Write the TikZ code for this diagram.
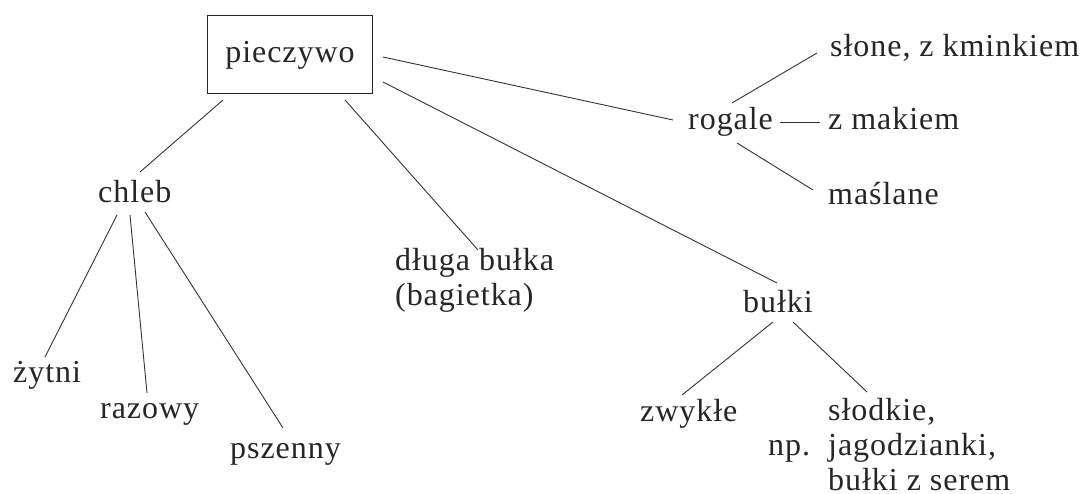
\documentclass[tikz,border=0pt]{standalone}
\usepackage{fontspec}
\setmainfont[LetterSpace=3]{Liberation Serif}
\usetikzlibrary{calc}
\begin{document}
\begin{tikzpicture}[x=1pt,y=-1pt,
  lbl/.style={anchor=base west, inner sep=0pt, align=left,
    font=\fontsize{32}{35}\selectfont, text=black!85},
  rootbox/.style={draw=black!85, line width=1pt, minimum width=165pt,
    minimum height=78pt, inner sep=0pt,
    font=\fontsize{32}{35}\selectfont, text=black!85},
  link/.style={line width=0.9pt, black!80}]
\useasboundingbox (0,0) rectangle (1085,494);

% top of the tree
\node[rootbox] (root) at (290,55) {pieczywo};

% first level (multi-line labels sit on the baseline of their last line)
\node[lbl] (chleb)  at (98,203)  {chleb};
\node[lbl] (dluga)  at (395,306) {długa bułka\\(bagietka)};
\node[lbl] (bulki)  at (743,313) {bułki};
\node[lbl] (rogale) at (688,130) {rogale};

% kinds of bread
\node[lbl] (zytni)   at (13,383)  {żytni};
\node[lbl] (razowy)  at (100,418) {razowy};
\node[lbl] (pszenny) at (230,458) {pszenny};

% kinds of croissants
\node[lbl] (slone)   at (830,57)  {słone, z kminkiem};
\node[lbl] (zmakiem) at (828,130) {z makiem};
\node[lbl] (maslane) at (828,205) {maślane};

% kinds of rolls
\node[lbl] (zwykle)  at (640,421) {zwykłe};
\node[lbl] (slodkie) at (828,490) {słodkie,\\jagodzianki,\\bułki z serem};
\node[lbl] (np)      at (768,455) {np.};

% connectors from the root
\draw[link] ($(root.center)+(-67,45)$) -- ($(chleb.base west)+(42,-31)$);
\draw[link] ($(root.center)+(55,45)$)  -- ($(dluga.base west)+(83,-56)$);
\draw[link] ($(root.center)+(93,27)$)  -- ($(bulki.base west)+(34,-30)$);
\draw[link] ($(root.center)+(93,2)$)   -- ($(rogale.base west)+(-15,-10)$);

% bread
\draw[link] ($(chleb.base west)+(19,12)$) -- ($(zytni.base west)+(32,-26)$);
\draw[link] ($(chleb.base west)+(32,12)$) -- ($(razowy.base west)+(47,-25)$);
\draw[link] ($(chleb.base west)+(47,9)$)  -- ($(pszenny.base west)+(53,-30)$);

% croissants
\draw[link] ($(rogale.base west)+(44,-27)$) -- ($(slone.base west)+(-13,-4)$);
\draw[link] ($(rogale.base west)+(92,-8)$)  -- ($(zmakiem.base west)+(-8,-8)$);
\draw[link] ($(rogale.base west)+(49,13)$)  -- ($(maslane.base west)+(-15,-15)$);

% rolls
\draw[link] ($(bulki.base west)+(30,9)$) -- ($(zwykle.base west)+(42,-26)$);
\draw[link] ($(bulki.base west)+(50,9)$) -- ($(slodkie.base west)+(39,-98)$);
\end{tikzpicture}
\end{document}
